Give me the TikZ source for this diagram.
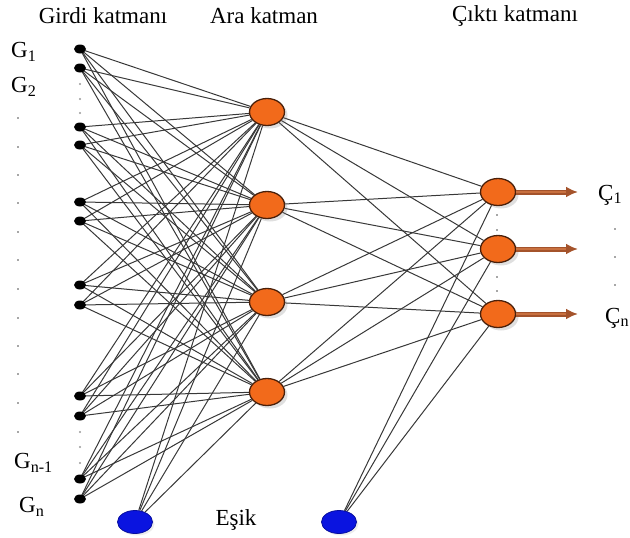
\documentclass[tikz,border=0pt]{standalone}
\usepackage{fontspec}
\setmainfont{Liberation Serif}
\usetikzlibrary{shapes.geometric,shadows,arrows.meta,backgrounds}
\definecolor{neuron}{HTML}{F26A1B}
\definecolor{neuronedge}{HTML}{4A200A}
\definecolor{biasblue}{HTML}{0A14E0}
\definecolor{wire}{HTML}{383838}
\definecolor{outarrow}{HTML}{A4532B}
\definecolor{outarrowcore}{HTML}{C8703F}
\tikzset{
  inputdot/.style={ellipse,fill=black,minimum width=12pt,minimum height=9pt,inner sep=0pt},
  neuronnode/.style={ellipse,draw=neuronedge,line width=1.3pt,fill=neuron,
    minimum width=35pt,minimum height=27pt,inner sep=0pt,
    drop shadow={opacity=0.25,shadow xshift=3pt,shadow yshift=-3pt}},
  biasnode/.style={ellipse,draw=biasblue!70!black,line width=0.8pt,fill=biasblue,
    minimum width=35pt,minimum height=23pt,inner sep=0pt,
    drop shadow={opacity=0.15,shadow xshift=2pt,shadow yshift=-2pt}},
  wireline/.style={draw=wire,line width=1pt},
  outline/.style={draw=outarrow,line width=5pt,-{Latex[length=12pt,width=11pt]}},
  outcore/.style={draw=outarrowcore,line width=1.6pt},
  smalldot/.style={circle,fill=black!70,minimum size=1.8pt,inner sep=0pt},
  faintdot/.style={circle,fill=black!40,minimum size=2.2pt,inner sep=0pt},
  lbl/.style={font=\fontsize{23}{26}\selectfont,inner sep=0pt},
}
\begin{document}
\begin{tikzpicture}[x=1pt,y=-1pt]
\useasboundingbox (0,0) rectangle (630,538);

% layer titles
\node[lbl] (tin)  at (103,16) {Girdi katmanı};
\node[lbl] (thid) at (264,16) {Ara katman};
\node[lbl] (tout) at (515,16) {Çıktı katmanı};

% input units
\foreach \i/\yy in {1/49,2/68,3/127,4/145,5/202,6/221,7/285,8/305,9/396,10/416,11/479,12/499}
  \node[inputdot] (in\i) at (80,\yy) {};

% hidden units
\foreach \j/\yy in {1/112,2/205,3/302,4/392}
  \node[neuronnode] (h\j) at (267,\yy) {};

% output units
\foreach \k/\yy in {1/192,2/249,3/314}
  \node[neuronnode] (o\k) at (498,\yy) {};

% bias units
\node[biasnode] (b1) at (135,522) {};
\node[biasnode] (b2) at (339,522) {};

% connections, kept behind the units
\begin{scope}[on background layer]
\foreach \i in {1,...,12}
  \foreach \j in {1,...,4}
    \draw[wireline] (in\i.center) -- (h\j);
\foreach \j in {1,...,4}
  \draw[wireline] (b1) -- (h\j);
\foreach \j in {1,...,4}
  \foreach \k in {1,2,3}
    \draw[wireline] (h\j) -- (o\k);
\foreach \k in {1,2,3}
  \draw[wireline] (b2) -- (o\k);
\end{scope}

% output arrows
\foreach \k/\yy in {1/192,2/249,3/314} {
  \coordinate (e\k) at (578,\yy);
  \coordinate (m\k) at (566,\yy);
  \draw[outline] (o\k.east) -- (e\k);
  \draw[outcore] (o\k.east) -- (m\k);
}

% gaps between input units
\foreach \yy in {84,99,113,432,447,463}
  \node[faintdot] at (80,\yy) {};

% ellipsis column on the left
\foreach \yy in {118,147,175,203,232,260,289,318,346,374,403,432}
  \node[smalldot] at (18,\yy) {};

% ellipsis between output units
\foreach \yy in {215,230,277,291}
  \node[smalldot] at (497,\yy) {};
\foreach \yy in {229,257,285}
  \node[smalldot] at (615,\yy) {};

% labels
\node[lbl,anchor=west] (g1)  at (11,52)  {G\textsubscript{1}};
\node[lbl,anchor=west] (g2)  at (11,87)  {G\textsubscript{2}};
\node[lbl,anchor=west] (gn1) at (14,463) {G\textsubscript{n-1}};
\node[lbl,anchor=west] (gn)  at (19,507) {G\textsubscript{n}};
\node[lbl] (esik) at (236,520) {Eşik};
\node[lbl,anchor=west] (c1) at (598,195) {Ç\textsubscript{1}};
\node[lbl,anchor=west] (cn) at (605,318) {Ç\textsubscript{n}};
\end{tikzpicture}
\end{document}
